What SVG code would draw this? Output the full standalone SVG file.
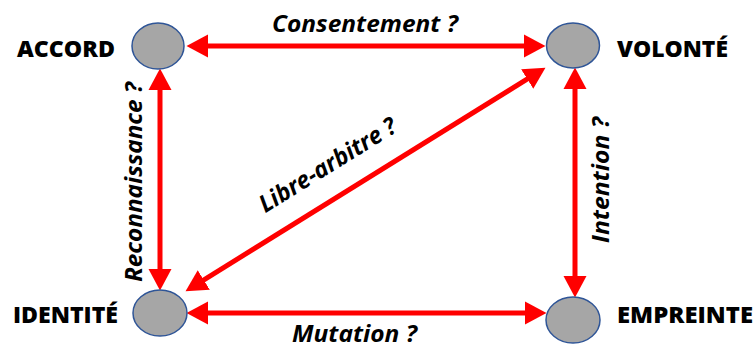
<svg xmlns="http://www.w3.org/2000/svg" width="756" height="349" viewBox="0 0 756 349">
<style>
.node{fill:#a6a6a6;stroke:#2f5597;stroke-width:1.5}
.nl{font-family:"Open Sans","DejaVu Sans",sans-serif;font-weight:800;font-size:23px;fill:#000}
.el{font-family:"Open Sans","DejaVu Sans",sans-serif;font-weight:bold;font-style:italic;font-size:24px;fill:#000}
.arr{stroke:#ff0000;stroke-width:5;fill:none;marker-start:url(#ah);marker-end:url(#ah)}
</style>
<defs>
<marker id="ah" markerUnits="userSpaceOnUse" markerWidth="23" markerHeight="25" viewBox="0 -12.5 23 25" refX="6" refY="0" orient="auto-start-reverse">
<path d="M0,-11.5 L21.5,0 L0,11.5 z" fill="#ff0000"/>
</marker>
</defs>
<rect width="756" height="349" fill="#ffffff"/>
<g id="connectors">
<line class="arr" x1="202" y1="46" x2="530" y2="46"/>
<line class="arr" x1="202" y1="313" x2="531" y2="313"/>
<line class="arr" x1="160" y1="84" x2="160" y2="275"/>
<line class="arr" x1="575" y1="83" x2="575" y2="282"/>
<line class="arr" x1="198.7" y1="283.1" x2="532.3" y2="75.9"/>
<text class="el" x="365" y="32" text-anchor="middle" textLength="186" lengthAdjust="spacingAndGlyphs">Consentement ?</text>
<text class="el" x="354.5" y="342" text-anchor="middle" textLength="125" lengthAdjust="spacingAndGlyphs">Mutation ?</text>
<text class="el" transform="translate(142,182) rotate(-90)" text-anchor="middle" textLength="200" lengthAdjust="spacingAndGlyphs">Reconnaissance ?</text>
<text class="el" transform="translate(609,180) rotate(-90)" text-anchor="middle" textLength="126" lengthAdjust="spacingAndGlyphs">Intention ?</text>
<text class="el" transform="translate(332,172) rotate(-31.8)" text-anchor="middle" textLength="157" lengthAdjust="spacingAndGlyphs">Libre-arbitre ?</text>
</g>
<g id="accord">
<ellipse class="node" cx="158" cy="46" rx="26" ry="23"/>
<text class="nl" x="17" y="57" textLength="98" lengthAdjust="spacingAndGlyphs">ACCORD</text>
</g>
<g id="volonte">
<ellipse class="node" cx="573" cy="45.5" rx="26.5" ry="22.5"/>
<text class="nl" x="617" y="57" textLength="111" lengthAdjust="spacingAndGlyphs">VOLONTÉ</text>
</g>
<g id="identite">
<ellipse class="node" cx="160" cy="313" rx="27" ry="23"/>
<text class="nl" x="13" y="323" textLength="105" lengthAdjust="spacingAndGlyphs">IDENTITÉ</text>
</g>
<g id="empreinte">
<ellipse class="node" cx="573" cy="320" rx="27" ry="23"/>
<text class="nl" x="617" y="323" textLength="136" lengthAdjust="spacingAndGlyphs">EMPREINTE</text>
</g>
</svg>
